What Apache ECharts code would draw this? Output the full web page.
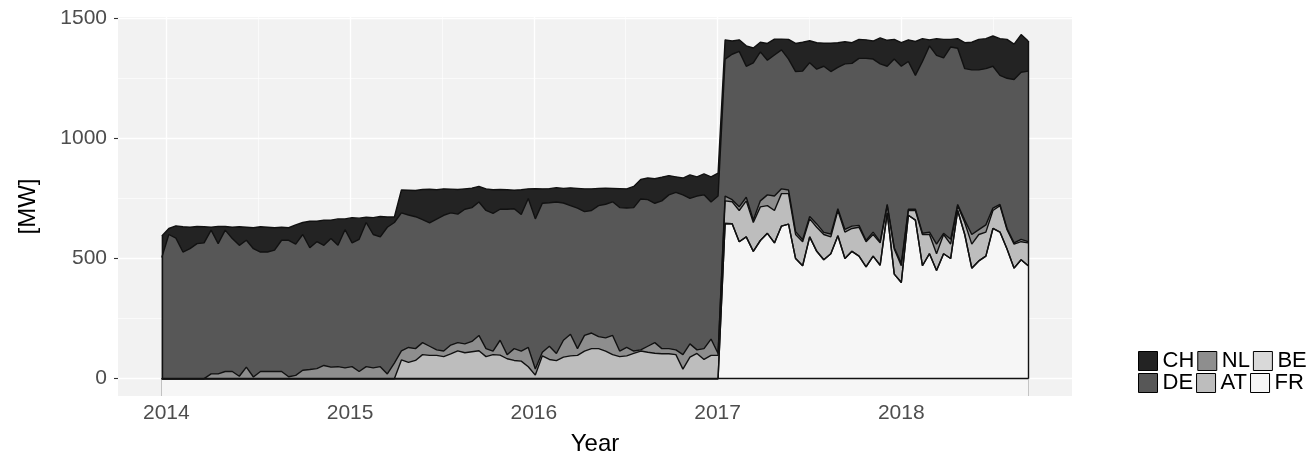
<!DOCTYPE html>
<html>
<head>
<meta charset="utf-8">
<script src="https://cdn.jsdelivr.net/npm/echarts@6/dist/echarts.min.js"></script>
<style>
  html, body { margin: 0; padding: 0; background: #fff; }
  #chart { width: 1313px; height: 459px; }
</style>
</head>
<body>
<div id="chart"></div>
<script>
'use strict';
// weekly data sampled every 2 weeks, first week starts 2013-12-23
var firstWeek = Date.UTC(2013, 11, 23);
var stepDays = 14;

var yearTicks = [2014, 2015, 2016, 2017, 2018];
var yTicks = [0, 500, 1000, 1500];
var seriesNames = ['CH', 'DE', 'NL', 'AT', 'BE', 'FR'];

// MW per country
var ch = [90,25,51,105,89,71,67,12,72,15,47,77,54,87,105,103,93,54,52,80,
  50,110,85,105,77,110,45,105,88,22,70,85,43,23,
  95,103,109,125,140,122,110,99,102,85,81,65,90,98,82,81,77,103,40,126,
  60,59,60,61,74,82,95,90,72,67,56,79,80,88,81,90,102,98,80,65,70,98,80,87,105,95,
  80,55,48,85,62,40,70,66,45,82,117,120,91,110,96,118,103,92,86,79,
  77,75,108,108,82,98,90,141,95,25,70,77,32,40,108,115,127,125,126,153,162,147,157,125];
var de = [504,600,585,527,541,562,565,598,542,588,553,545,528,534,497,497,505,546,568,546,
  565,507,528,500,535,505,575,515,550,600,555,540,610,585,
  574,551,549,512,513,544,565,550,535,560,557,555,575,573,545,605,582,568,620,625,
  620,597,630,571,535,585,515,510,545,556,556,597,580,597,628,610,580,615,640,655,665,605,640,640,570,655,
  570,605,647,545,654,620,560,587,578,545,666,702,640,644,691,676,588,689,677,695,
  758,720,740,575,785,820,615,557,715,775,785,730,800,650,630,685,665,650,590,537,625,680,695,710];
var nl = [0,0,0,0,0,0,0,20,20,30,30,10,48,7,30,30,30,30,8,14,
  35,38,42,55,48,50,45,50,30,50,45,50,20,65,
  38,62,49,50,38,23,23,37,34,37,43,64,33,15,62,17,49,42,80,25,
  15,55,30,70,90,28,65,65,50,55,80,23,35,10,5,25,44,21,21,20,60,55,15,45,68,8,
  20,9,15,15,10,25,45,60,20,15,12,8,10,14,9,12,7,11,10,8,
  5,10,5,5,5,10,5,5,5,10,40,5,20,5,10,40,20,30,10,5,5,5,10,5];
var at = [0,0,0,0,0,0,0,0,0,0,0,0,0,0,0,0,0,0,0,0,
  0,0,0,0,0,0,0,0,0,0,0,0,0,0,
  78,68,76,100,97,97,92,103,116,108,112,116,92,100,98,83,76,73,50,15,
  95,80,75,90,95,97,115,125,125,115,100,92,95,105,115,110,106,104,104,100,40,90,105,80,97,97,
  94,91,130,150,120,140,115,135,135,127,100,100,75,100,105,70,105,110,95,120,
  105,90,93,30,105,70,20,40,130,80,70,80,60,20,50,100,110,100,75,110,80,100,75,95];
var be = [0,0,0,0,0,0,0,0,0,0,0,0,0,0,0,0,0,0,0,0,
  0,0,0,0,0,0,0,0,0,0,0,0,0,0,0,0,0,0,0,0,
  0,0,0,0,0,0,0,0,0,0,0,0,0,0,0,0,0,0,0,0,
  0,0,0,0,0,0,0,0,0,0,0,0,0,0,0,0,0,0,0,0,
  0,0,0,0,0,0,0,0,0,0,0,0,0,0,0,0,0,0,0,0,
  0,0,0,0,0,0,0,0,0,0,0,0,0,0,0,0,0,0,0,0,0,0,0,0];
var fr = [0,0,0,0,0,0,0,0,0,0,0,0,0,0,0,0,0,0,0,0,
  0,0,0,0,0,0,0,0,0,0,0,0,0,0,0,0,0,0,0,0,
  0,0,0,0,0,0,0,0,0,0,0,0,0,0,0,0,0,0,0,0,
  0,0,0,0,0,0,0,0,0,0,0,0,0,0,0,0,0,0,0,0,
  646,645,570,590,530,575,605,565,635,643,500,470,590,530,495,520,595,500,530,510,
  465,510,472,690,435,400,680,660,470,520,450,520,500,700,600,460,490,510,625,610,540,460,495,470];

var fills = { CH: '#232323', DE: '#575757', NL: '#8e8e8e', AT: '#bdbdbd', BE: '#d9d9d9', FR: '#f6f6f6' };
var font = 'Liberation Sans, Arial, sans-serif';

function decYear(ms) {
    var y = new Date(ms).getUTCFullYear();
    var s = Date.UTC(y, 0, 1), e = Date.UTC(y + 1, 0, 1);
    return y + (ms - s) / (e - s);
}
var xs = ch.map(function (v, i) { return decYear(firstWeek + i * stepDays * 864e5); });
var values = { CH: ch, DE: de, NL: nl, AT: at, BE: be, FR: fr };
var last = xs.length - 1;

// stack by hand (echarts stacks the x dim on a value/value grid):
// top of each layer = own value + everything below it (FR at the bottom, CH on top)
function layerTop(name, i) {
    var k = seriesNames.indexOf(name), s = 0;
    for (var j = k; j < seriesNames.length; j++) s += values[seriesNames[j]][i];
    return s;
}

// ggplot style grid lines
var gridLines = [];
for (var yv = 2014; yv <= 2018.5; yv += 0.5) {
    gridLines.push({ xAxis: yv, lineStyle: { width: yv % 1 === 0 ? 1.3 : 0.6 } });
}
for (var mw = 0; mw <= 1500; mw += 250) {
    gridLines.push({ yAxis: mw, lineStyle: { width: mw % 500 === 0 ? 1.3 : 0.6 } });
}

// drawn top layer first, each one filled down to 0, lower layers painted over
var series = seriesNames.map(function (name) {
    return {
        name: name,
        type: 'line',
        symbol: 'none',
        z: 3,
        color: fills[name],
        itemStyle: { color: fills[name] },
        lineStyle: { color: '#111', width: 1.4 },
        areaStyle: { color: fills[name], opacity: 1, origin: 'start' },
        data: xs.map(function (x, i) { return [x, layerTop(name, i)]; })
    };
});
series.unshift({
    type: 'line', data: [], z: 1, silent: true,
    markLine: { silent: true, z: 1, symbol: ['none', 'none'], label: { show: false },
        lineStyle: { color: '#ffffff', type: 'solid' }, data: gridLines }
});
series.push({
    type: 'line', data: [], z: 4, silent: true,
    markLine: { silent: true, z: 6, symbol: ['none', 'none'], label: { show: false },
        lineStyle: { color: '#111', type: 'solid', width: 1.4 },
        data: [
            [{ coord: [xs[0], 0] }, { coord: [xs[0], layerTop('CH', 0)] }],
            [{ coord: [xs[last], 0] }, { coord: [xs[last], layerTop('CH', last)] }],
            [{ coord: [xs[0], 0] }, { coord: [xs[last], 0] }]
        ] }
});

// two legend rows like ggplot's 3-column legend
function legendRow(names, top) {
    return {
        data: names, left: 1133, top: top, orient: 'horizontal',
        icon: 'rect', itemWidth: 19, itemHeight: 19, itemGap: 3,
        itemStyle: { borderColor: '#000', borderWidth: 1 },
        textStyle: { fontSize: 22, color: '#000', fontFamily: font }
    };
}

var myChart = echarts.init(document.getElementById('chart'));
var option = {
    animation: false,
    textStyle: { fontFamily: font },
    grid: { left: 118, right: 241, top: 17, bottom: 63, outerBoundsMode: 'none',
        show: true, backgroundColor: '#f2f2f2', borderWidth: 0 },
    legend: [legendRow(['CH', 'NL', 'BE'], 345), legendRow(['DE', 'AT', 'FR'], 367)],
    xAxis: {
        type: 'value', min: 2013.737, max: 2018.929,
        splitLine: { show: false },
        axisLine: { show: false },
        axisTick: { show: true, customValues: yearTicks, length: 4, lineStyle: { color: '#333', width: 1.1 } },
        axisLabel: { customValues: yearTicks, formatter: function (v) { return String(v); },
            fontSize: 21, color: '#4d4d4d', margin: 7, fontFamily: font },
        name: 'Year', nameLocation: 'middle', nameGap: 36,
        nameTextStyle: { fontSize: 24, color: '#000', fontFamily: font }
    },
    yAxis: {
        type: 'value', min: -72, max: 1505,
        splitLine: { show: false },
        axisLine: { show: false },
        axisTick: { show: true, customValues: yTicks, length: 4, lineStyle: { color: '#333', width: 1.1 } },
        axisLabel: { customValues: yTicks, formatter: function (v) { return String(v); },
            fontSize: 21, color: '#4d4d4d', margin: 11, fontFamily: font },
        name: '[MW]', nameLocation: 'middle', nameGap: 78, nameRotate: 90,
        nameTextStyle: { fontSize: 24, color: '#000', fontFamily: font }
    },
    series: series
};
myChart.setOption(option);
</script>
</body>
</html>
